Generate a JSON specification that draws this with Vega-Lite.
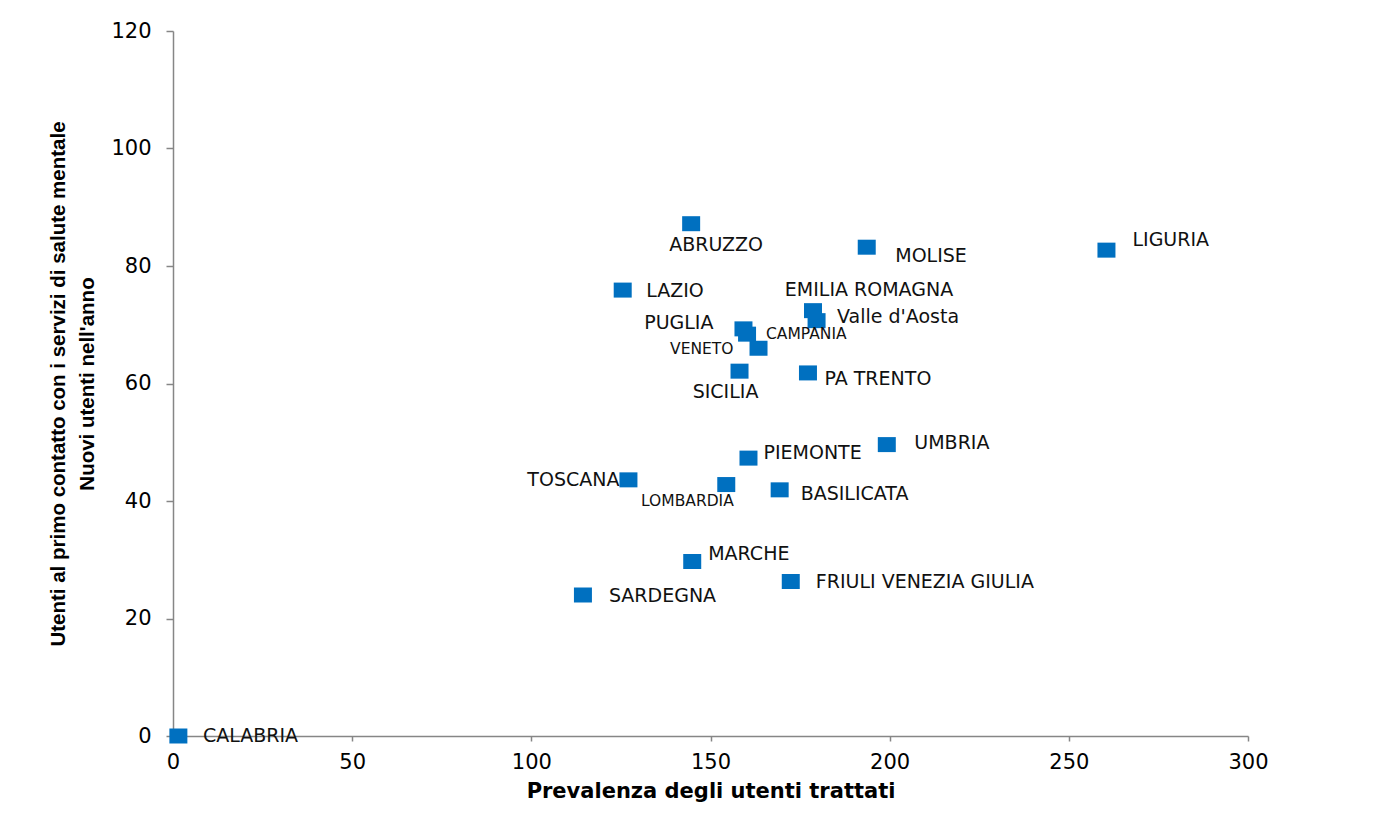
{
  "$schema": "https://vega.github.io/schema/vega-lite/v6.json",
  "width": 1075,
  "height": 705,
  "autosize": {"type": "none"},
  "padding": {"left": 173, "top": 31, "right": 129, "bottom": 77},
  "background": "white",
  "config": {
    "view": {"stroke": null},
    "axis": {
      "grid": false,
      "domainColor": "#868686",
      "tickColor": "#868686",
      "domainWidth": 1.5,
      "tickWidth": 1.5,
      "labelFont": "DejaVu Sans",
      "labelFontSize": 21,
      "labelColor": "#000000",
      "labelFlush": false,
      "labelOverlap": false,
      "titleColor": "#000000",
      "titleFontWeight": "bold"
    },
    "text": {"font": "DejaVu Sans", "fontSize": 19, "color": "#111111", "baseline": "middle"}
  },
  "data": {
    "values": [
      {"regione": "CALABRIA", "prevalenza": 1.5, "nuovi": 0},
      {"regione": "ABRUZZO", "prevalenza": 144.6, "nuovi": 87.2},
      {"regione": "MOLISE", "prevalenza": 193.6, "nuovi": 83.2},
      {"regione": "LIGURIA", "prevalenza": 260.5, "nuovi": 82.7},
      {"regione": "LAZIO", "prevalenza": 125.5, "nuovi": 75.9},
      {"regione": "EMILIA ROMAGNA", "prevalenza": 178.6, "nuovi": 72.4},
      {"regione": "Valle d'Aosta", "prevalenza": 179.6, "nuovi": 70.7},
      {"regione": "PUGLIA", "prevalenza": 159.2, "nuovi": 69.3},
      {"regione": "CAMPANIA", "prevalenza": 160.2, "nuovi": 68.4},
      {"regione": "VENETO", "prevalenza": 163.4, "nuovi": 66.0},
      {"regione": "SICILIA", "prevalenza": 158.1, "nuovi": 62.1},
      {"regione": "PA TRENTO", "prevalenza": 177.2, "nuovi": 61.8},
      {"regione": "UMBRIA", "prevalenza": 199.2, "nuovi": 49.6},
      {"regione": "PIEMONTE", "prevalenza": 160.6, "nuovi": 47.3},
      {"regione": "TOSCANA", "prevalenza": 127.1, "nuovi": 43.6},
      {"regione": "LOMBARDIA", "prevalenza": 154.4, "nuovi": 42.8},
      {"regione": "BASILICATA", "prevalenza": 169.3, "nuovi": 41.9},
      {"regione": "MARCHE", "prevalenza": 144.9, "nuovi": 29.7},
      {"regione": "FRIULI VENEZIA GIULIA", "prevalenza": 172.4, "nuovi": 26.3},
      {"regione": "SARDEGNA", "prevalenza": 114.4, "nuovi": 24.0}
    ]
  },
  "encoding": {
    "x": {
      "field": "prevalenza",
      "type": "quantitative",
      "scale": {"domain": [0, 300], "nice": false},
      "axis": {
        "values": [0, 50, 100, 150, 200, 250, 300],
        "tickSize": 5,
        "labelPadding": 10,
        "title": "Prevalenza degli utenti trattati",
        "titleFont": "DejaVu Sans",
        "titleFontSize": 21,
        "titlePadding": 8
      }
    },
    "y": {
      "field": "nuovi",
      "type": "quantitative",
      "scale": {"domain": [0, 120], "nice": false},
      "axis": {
        "values": [0, 20, 40, 60, 80, 100, 120],
        "tickSize": 7,
        "labelPadding": 15,
        "title": ["Utenti al primo contatto con i servizi di salute mentale", "Nuovi utenti nell'anno"],
        "titleFont": "Liberation Sans",
        "titleFontSize": 20.5,
        "titleLineHeight": 29,
        "titlePadding": 13
      }
    }
  },
  "layer": [
    {"mark": {"type": "point", "shape": "M-1.2,-1H1.2V1H-1.2Z", "filled": true, "size": 225, "color": "#0070C0", "opacity": 1, "strokeWidth": 0}},
    {"transform": [{"filter": "datum.regione == 'CALABRIA'"}], "mark": {"type": "text", "align": "left", "dx": 24.5, "dy": 0}, "encoding": {"text": {"field": "regione"}}},
    {"transform": [{"filter": "datum.regione == 'ABRUZZO'"}], "mark": {"type": "text", "align": "center", "dx": 25, "dy": 21}, "encoding": {"text": {"field": "regione"}}},
    {"transform": [{"filter": "datum.regione == 'MOLISE'"}], "mark": {"type": "text", "align": "left", "dx": 28.5, "dy": 9}, "encoding": {"text": {"field": "regione"}}},
    {"transform": [{"filter": "datum.regione == 'LIGURIA'"}], "mark": {"type": "text", "align": "left", "dx": 26, "dy": -10}, "encoding": {"text": {"field": "regione"}}},
    {"transform": [{"filter": "datum.regione == 'LAZIO'"}], "mark": {"type": "text", "align": "left", "dx": 23.5, "dy": 1}, "encoding": {"text": {"field": "regione"}}},
    {"transform": [{"filter": "datum.regione == 'EMILIA ROMAGNA'"}], "mark": {"type": "text", "align": "center", "dx": 56, "dy": -21}, "encoding": {"text": {"field": "regione"}}},
    {"transform": [{"filter": "datum.regione == \"Valle d'Aosta\""}], "mark": {"type": "text", "align": "left", "dx": 20.5, "dy": -4}, "encoding": {"text": {"field": "regione"}}},
    {"transform": [{"filter": "datum.regione == 'PUGLIA'"}], "mark": {"type": "text", "align": "right", "dx": -30, "dy": -5.5}, "encoding": {"text": {"field": "regione"}}},
    {"transform": [{"filter": "datum.regione == 'CAMPANIA'"}], "mark": {"type": "text", "align": "left", "dx": 19, "dy": 0, "fontSize": 15.5}, "encoding": {"text": {"field": "regione"}}},
    {"transform": [{"filter": "datum.regione == 'VENETO'"}], "mark": {"type": "text", "align": "right", "dx": -25, "dy": 1, "fontSize": 15.5}, "encoding": {"text": {"field": "regione"}}},
    {"transform": [{"filter": "datum.regione == 'SICILIA'"}], "mark": {"type": "text", "align": "center", "dx": -14, "dy": 20.5}, "encoding": {"text": {"field": "regione"}}},
    {"transform": [{"filter": "datum.regione == 'PA TRENTO'"}], "mark": {"type": "text", "align": "left", "dx": 16.5, "dy": 6}, "encoding": {"text": {"field": "regione"}}},
    {"transform": [{"filter": "datum.regione == 'UMBRIA'"}], "mark": {"type": "text", "align": "left", "dx": 27.5, "dy": -2}, "encoding": {"text": {"field": "regione"}}},
    {"transform": [{"filter": "datum.regione == 'PIEMONTE'"}], "mark": {"type": "text", "align": "left", "dx": 15, "dy": -5}, "encoding": {"text": {"field": "regione"}}},
    {"transform": [{"filter": "datum.regione == 'TOSCANA'"}], "mark": {"type": "text", "align": "right", "dx": -9, "dy": 0.5}, "encoding": {"text": {"field": "regione"}}},
    {"transform": [{"filter": "datum.regione == 'LOMBARDIA'"}], "mark": {"type": "text", "align": "right", "dx": 7.5, "dy": 16.5, "fontSize": 15.5}, "encoding": {"text": {"field": "regione"}}},
    {"transform": [{"filter": "datum.regione == 'BASILICATA'"}], "mark": {"type": "text", "align": "left", "dx": 21, "dy": 4}, "encoding": {"text": {"field": "regione"}}},
    {"transform": [{"filter": "datum.regione == 'MARCHE'"}], "mark": {"type": "text", "align": "left", "dx": 16, "dy": -8}, "encoding": {"text": {"field": "regione"}}},
    {"transform": [{"filter": "datum.regione == 'FRIULI VENEZIA GIULIA'"}], "mark": {"type": "text", "align": "left", "dx": 25, "dy": 0.5}, "encoding": {"text": {"field": "regione"}}},
    {"transform": [{"filter": "datum.regione == 'SARDEGNA'"}], "mark": {"type": "text", "align": "left", "dx": 26, "dy": 1}, "encoding": {"text": {"field": "regione"}}}
  ]
}
